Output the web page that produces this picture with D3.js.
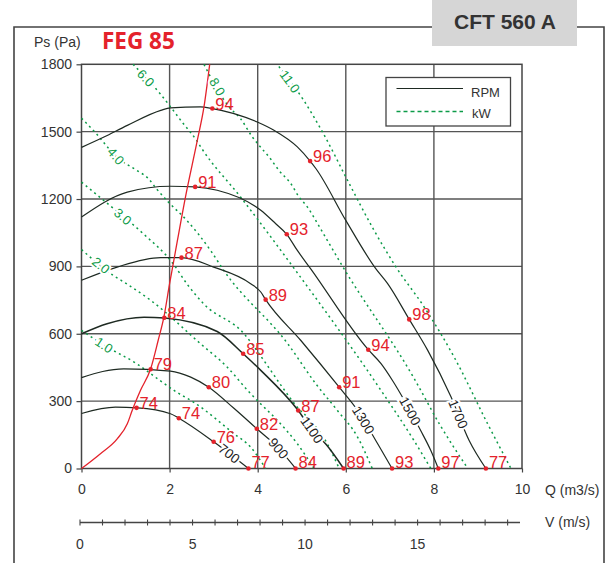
<!DOCTYPE html>
<html><head><meta charset="utf-8">
<script src="https://cdn.jsdelivr.net/npm/d3@7"></script>
<style>
body{margin:0;background:#fff;}
svg{display:block;font-family:"Liberation Sans",Arial,sans-serif;}
</style></head><body>
<svg id="c" width="606" height="563"></svg>
<script>
// ---------- data ----------
const yTicks = [0, 300, 600, 900, 1200, 1500, 1800];
const qTicks = [0, 2, 4, 6, 8, 10];
const vTicks = [0,1,2,3,4,5,6,7,8,9,10,11,12,13,14,15,16,17,18,19];
const vLabels = [0, 5, 10, 15];

const rpmNames = ["700", "900", "1100", "1300", "1500", "1700"];
const rpm700  = [[0,245],[0.77,273],[1.27,270],[2.02,244],[2.21,224],[3.0,119],[3.79,0]];
const rpm900  = [[0,405],[0.96,444],[2.02,434],[2.48,407],[2.89,362],[3.46,268],[3.98,177],[4.45,95],[4.86,0]];
const rpm1100 = [[0,600],[0.58,645],[1.42,674],[1.89,670],[3.08,610],[3.67,511],[4.07,437],[4.92,258],[5.24,169],[5.55,108],[5.95,0]];
const rpm1300 = [[0,838],[0.81,897],[1.8,939],[2.27,939],[3.0,897],[3.84,823],[4.07,786],[4.18,752],[4.98,570],[5.85,362],[6.27,258],[6.68,125],[7.05,0]];
const rpm1500 = [[0,1120],[1.04,1231],[2.02,1257],[2.58,1254],[3.08,1239],[4.07,1150],[4.41,1090],[4.66,1043],[4.9,971],[5.2,890],[6.51,529],[6.8,467],[7.06,392],[7.33,303],[7.7,169],[7.93,80],[8.1,0]];
const rpm1700 = [[0,1430],[0.51,1476],[1.04,1528],[1.8,1595],[2.02,1606],[2.7,1610],[2.97,1603],[3.99,1543],[4.37,1506],[4.9,1432],[5.19,1369],[5.32,1336],[6.0,1105],[6.68,890],[6.95,823],[7.44,664],[7.86,526],[8.39,318],[8.8,125],[9.18,0]];
const rpmLabelQ = [3.35, 4.47, 5.23, 6.4, 7.46, 8.55];

const sysCurve = [[0,0],[0.43,66],[0.81,132],[1.04,199],[1.15,258],[1.34,348],[1.57,444],[1.74,570],[1.87,674],[2.0,823],[2.09,920],[2.36,1209],[2.63,1462],[2.78,1610],[2.91,1800]];

const dots700  = [[1.25,270,"74"],[2.21,224,"74"],[3.0,119,"76"],[3.79,0,"77"]];
const dots900  = [[1.57,442,"79"],[2.89,362,"80"],[3.98,177,"82"],[4.86,0,"84"]];
const dots1100 = [[1.88,671,"84"],[3.67,511,"85"],[4.92,258,"87"],[5.95,0,"89"]];
const dots1300 = [[2.27,939,"87"],[4.18,752,"89"],[5.85,362,"91"],[7.05,0,"93"]];
const dots1500 = [[2.58,1254,"91"],[4.66,1043,"93"],[6.51,529,"94"],[8.1,0,"97"]];
const dots1700 = [[2.97,1603,"94"],[5.19,1369,"96"],[7.44,664,"98"],[9.18,0,"77"]];

const kwNames = ["1.0", "2.0", "3.0", "4.0", "6.0", "8.0", "11.0"];
const kw1  = [[0,615],[0.52,548],[1.25,467],[1.78,392],[2.16,340],[2.54,296],[3.46,155],[3.84,95],[4.18,0]];
const kw2  = [[0,975],[0.72,860],[1.02,823],[1.57,749],[2.70,556],[3.31,451],[3.77,348],[4.03,295],[4.45,214],[4.90,110],[5.28,0]];
const kw3  = [[0,1275],[0.64,1172],[1.40,1046],[2.08,912],[2.39,823],[2.77,734],[3.69,600],[4.14,481],[4.56,362],[4.90,273],[5.20,214],[5.58,110],[5.85,0]];
const kw4  = [[0,1560],[0.30,1499],[0.80,1387],[1.25,1328],[1.52,1291],[1.70,1246],[1.97,1187],[2.39,1105],[2.93,971],[3.23,882],[4.68,556],[5.32,377],[5.81,258],[6.27,139],[6.6,0]];
const kw6  = [[1.17,1800],[1.78,1670],[2.05,1603],[2.31,1536],[2.61,1462],[2.73,1425],[3.61,1209],[4.83,890],[6.86,330],[7.54,127],[7.93,0]];
const kw8  = [[2.78,1800],[3.35,1610],[3.61,1558],[3.88,1476],[4.03,1439],[4.26,1387],[4.48,1328],[4.75,1269],[4.94,1209],[5.13,1164],[5.36,1090],[5.58,1016],[5.89,912],[7.54,405],[8.15,190],[8.77,0]];
const kw11 = [[4.48,1790],[5.04,1641],[5.47,1499],[6.04,1283],[6.64,1061],[7.14,897],[7.78,719],[8.46,496],[9.22,199],[9.75,0]];
const kwLabelQ = [0.51, 0.44, 0.94, 0.78, 1.46, 3.08, 4.73];

const rpmCurves = [rpm700, rpm900, rpm1100, rpm1300, rpm1500, rpm1700];
const dotSets = [dots700, dots900, dots1100, dots1300, dots1500, dots1700];
const kwCurves = [kw1, kw2, kw3, kw4, kw6, kw8, kw11];

// ---------- drawing ----------
const svg = d3.select("#c");
const x = d3.scaleLinear().domain([0, 10]).range([81.5, 522]);
const y = d3.scaleLinear().domain([0, 1800]).range([468.5, 64.3]);
const v = d3.scaleLinear().domain([0, 19.55]).range([80, 520]);

const GREEN = "#0c9b48", RED = "#e4222b", BLACK = "#1e2a22", GRID = "#555555";

// outer frame
svg.append("path").attr("d", "M14,563 L14,27 L604,27 L604,563")
  .attr("fill", "none").attr("stroke", "#444").attr("stroke-width", 1.6);
// title box
svg.append("rect").attr("x", 432).attr("y", 0).attr("width", 145).attr("height", 46).attr("fill", "#d6d6d6");
svg.append("text").attr("x", 505).attr("y", 29).attr("text-anchor", "middle")
  .attr("font-size", 21).attr("font-weight", "bold").attr("fill", "#333").text("CFT 560 A");

svg.append("text").attr("x", 34).attr("y", 47).attr("font-size", 14).attr("fill", "#333").text("Ps (Pa)");
svg.append("text").attr("x", 102).attr("y", 48.5).attr("font-size", 22.5).attr("font-weight", "bold")
  .attr("font-family", "'Open Sans',sans-serif").attr("fill", RED).text("FEG 85");

// grid
const g = svg.append("g");
g.selectAll(".vg").data(qTicks.slice(1, -1)).join("line")
  .attr("x1", d => x(d)).attr("x2", d => x(d)).attr("y1", y(0)).attr("y2", y(1800))
  .attr("stroke", GRID).attr("stroke-width", 1.4);
g.selectAll(".hg").data(yTicks.slice(1, -1)).join("line")
  .attr("x1", x(0)).attr("x2", x(10)).attr("y1", d => y(d)).attr("y2", d => y(d))
  .attr("stroke", GRID).attr("stroke-width", 1.4);
g.append("rect").attr("x", x(0)).attr("y", y(1800)).attr("width", x(10) - x(0)).attr("height", y(0) - y(1800))
  .attr("fill", "none").attr("stroke", "#444").attr("stroke-width", 1.5);

// axes
const ya = svg.append("g").attr("transform", `translate(${x(0)},0)`)
  .call(d3.axisLeft(y).tickValues(yTicks).tickFormat(d3.format("d")).tickSize(5).tickPadding(4.5));
const xa = svg.append("g").attr("transform", `translate(0,${y(0)})`)
  .call(d3.axisBottom(x).tickValues(qTicks).tickFormat(d3.format("d")).tickSize(4).tickPadding(12));
[ya, xa].forEach(a => {
  a.select(".domain").remove();
  a.selectAll("line").attr("stroke", "#444").attr("stroke-width", 1.2);
  a.selectAll("text").attr("font-size", 14).attr("fill", "#333").attr("font-family", "'Liberation Sans',Arial,sans-serif");
});
svg.append("text").attr("x", 545).attr("y", 495).attr("font-size", 14).attr("fill", "#333").text("Q (m3/s)");

// V axis
const vy = 522.5;
svg.append("line").attr("x1", v(0)).attr("x2", v(19.55)).attr("y1", vy).attr("y2", vy)
  .attr("stroke", "#444").attr("stroke-width", 1.3);
svg.selectAll(".vt").data(vTicks).join("line")
  .attr("x1", d => v(d)).attr("x2", d => v(d)).attr("y1", vy - 3).attr("y2", vy + 3)
  .attr("stroke", "#444").attr("stroke-width", 1.1);
svg.selectAll(".vl").data(vLabels).join("text")
  .attr("x", d => v(d)).attr("y", 549).attr("text-anchor", "middle")
  .attr("font-size", 14).attr("fill", "#333").text(d => d);
svg.append("text").attr("x", 545).attr("y", 527).attr("font-size", 14).attr("fill", "#333").text("V (m/s)");

// lines
const line = d3.line().x(d => x(d[0])).y(d => y(d[1])).curve(d3.curveMonotoneX);
const plot = svg.append("g");
plot.selectAll(".kw").data(kwCurves).join("path")
  .attr("d", line).attr("fill", "none").attr("stroke", GREEN).attr("stroke-width", 1.5)
  .attr("stroke-dasharray", "2,3.5");
plot.selectAll(".rpm").data(rpmCurves).join("path")
  .attr("d", line).attr("fill", "none").attr("stroke", BLACK)
  .attr("stroke-width", (d, i) => i === 2 ? 1.5 : 1.2);
plot.append("path").datum(sysCurve).attr("d", line).attr("fill", "none")
  .attr("stroke", RED).attr("stroke-width", 1.3);

function interp(arr, q) {
  for (let i = 0; i < arr.length - 1; i++) {
    const a = arr[i], b = arr[i + 1];
    if (q >= a[0] && q <= b[0]) {
      const t = (q - a[0]) / (b[0] - a[0]);
      return { y: a[1] + t * (b[1] - a[1]), ang: Math.atan2(y(b[1]) - y(a[1]), x(b[0]) - x(a[0])) * 180 / Math.PI };
    }
  }
  return { y: arr[arr.length - 1][1], ang: 0 };
}

// kW labels
kwNames.forEach((n, i) => {
  const q = kwLabelQ[i], r = interp(kwCurves[i], q);
  plot.append("text")
    .attr("transform", `translate(${x(q)},${y(r.y)}) rotate(${r.ang})`)
    .attr("text-anchor", "middle").attr("dy", "0.35em")
    .attr("font-size", 13).attr("fill", GREEN)
    .attr("stroke", "#fff").attr("stroke-width", 4).attr("paint-order", "stroke")
    .text(n);
});
// RPM labels
rpmNames.forEach((n, i) => {
  const q = rpmLabelQ[i], r = interp(rpmCurves[i], q);
  plot.append("text")
    .attr("transform", `translate(${x(q)},${y(r.y)}) rotate(${r.ang})`)
    .attr("text-anchor", "middle").attr("dy", "0.35em")
    .attr("font-size", 13.5).attr("fill", "#222")
    .attr("stroke", "#fff").attr("stroke-width", 4).attr("paint-order", "stroke")
    .text(n);
});

// dots & numbers
const allDots = dotSets.flat();
plot.selectAll(".dot").data(allDots).join("circle")
  .attr("cx", d => x(d[0])).attr("cy", d => y(d[1])).attr("r", 2.3).attr("fill", RED);
plot.selectAll(".dl").data(allDots).join("text")
  .attr("x", d => x(d[0]) + 3).attr("y", d => y(d[1]) + (d[1] === 0 ? -1 : 1))
  .attr("font-size", 16.5).attr("fill", RED).text(d => d[2]);

// legend
const lg = svg.append("g");
lg.append("rect").attr("x", 386).attr("y", 77.5).attr("width", 124.5).attr("height", 48.5)
  .attr("fill", "#fff").attr("stroke", "#444").attr("stroke-width", 1.3);
lg.append("line").attr("x1", 396.5).attr("x2", 463).attr("y1", 88.5).attr("y2", 88.5)
  .attr("stroke", BLACK).attr("stroke-width", 1.1);
lg.append("line").attr("x1", 396.5).attr("x2", 463).attr("y1", 111.5).attr("y2", 111.5)
  .attr("stroke", GREEN).attr("stroke-width", 1.3).attr("stroke-dasharray", "4,3");
lg.append("text").attr("x", 471).attr("y", 96.5).attr("font-size", 13).attr("fill", "#333").text("RPM");
lg.append("text").attr("x", 472).attr("y", 118).attr("font-size", 13).attr("fill", "#333").text("kW");
</script>
</body></html>
